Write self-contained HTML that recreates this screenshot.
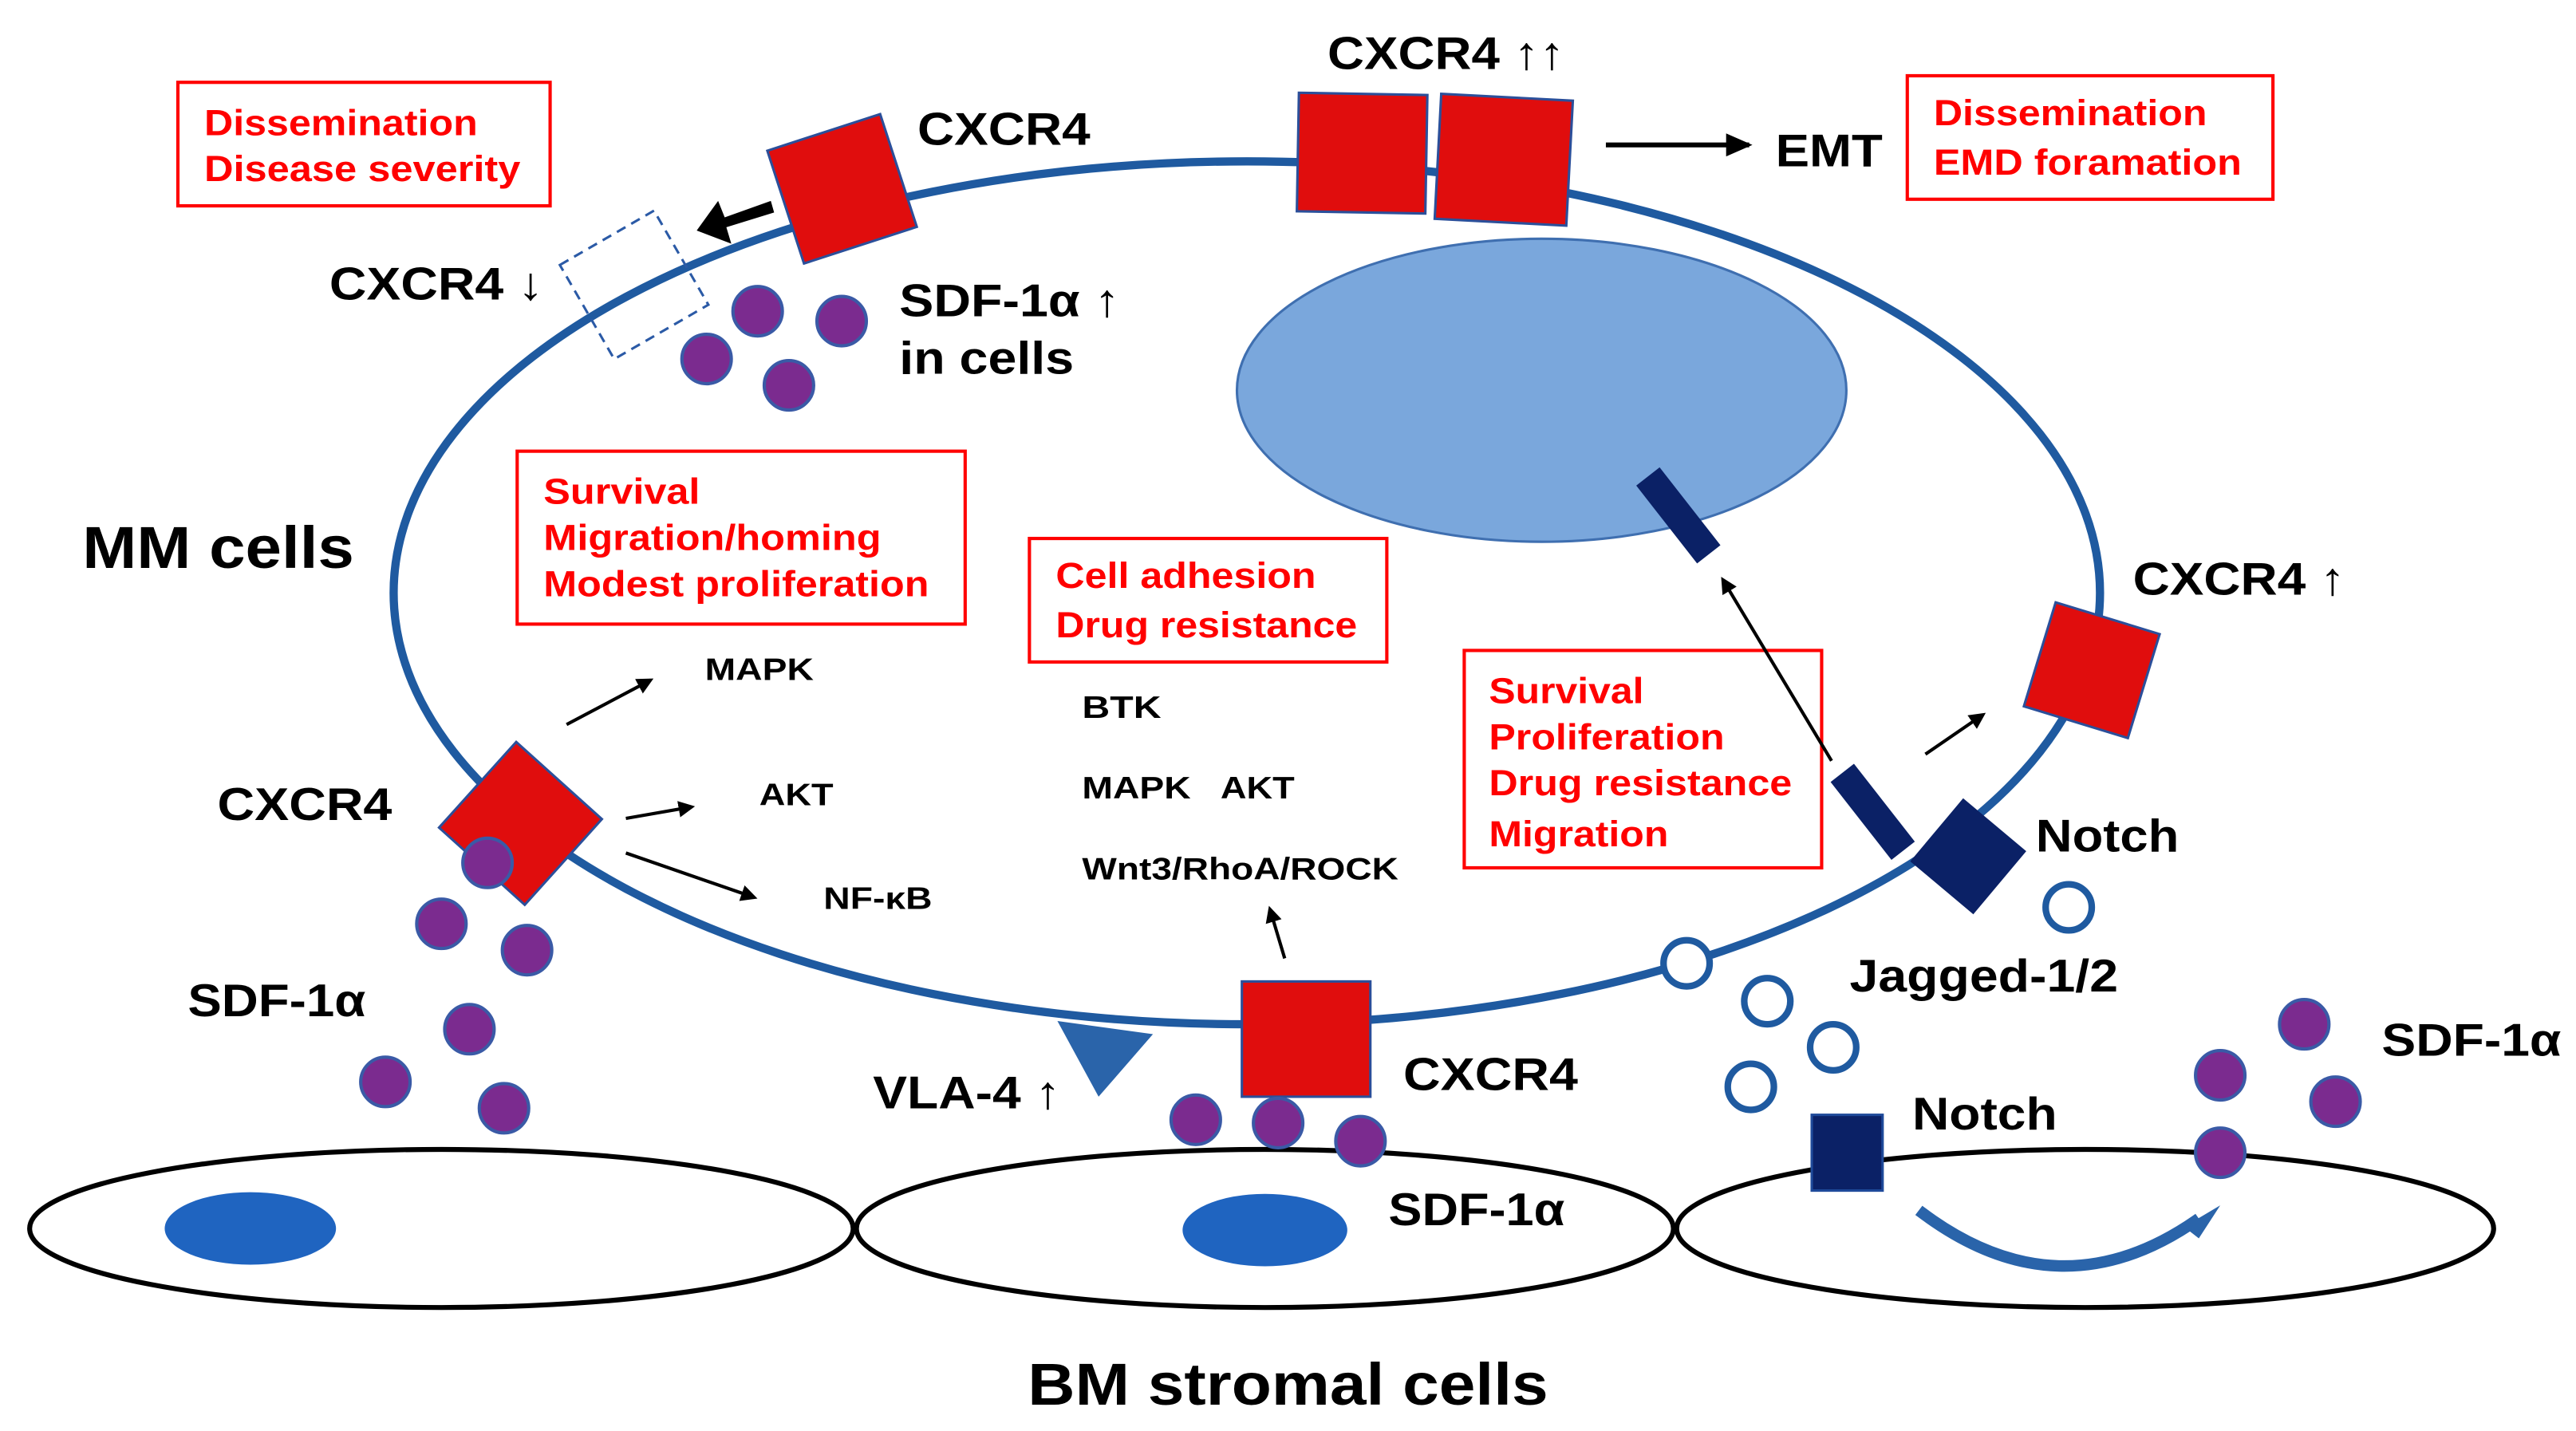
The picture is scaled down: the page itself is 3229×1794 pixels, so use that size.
<!DOCTYPE html>
<html><head><meta charset="utf-8"><style>
html,body{margin:0;padding:0;background:#fff;}
svg{display:block;}
text{font-family:"Liberation Sans",Arial,sans-serif;font-weight:bold;}
.r{fill:#f00;font-size:22px;}
.k{fill:#000;font-size:28px;}
.s{fill:#000;font-size:19px;}
.box{fill:#fff;stroke:#f00;stroke-width:2;}
.sq{fill:#e00d0d;stroke:#2b4f9a;stroke-width:1.5;}
.p{fill:#7b2b8f;stroke:#3a5aa6;stroke-width:2;}
.o{fill:#fff;stroke:#1f5aa0;stroke-width:4;}
</style></head><body>
<svg width="3229" height="1794" viewBox="0 0 1564 869" preserveAspectRatio="none">
<defs><marker id="a" markerWidth="10" markerHeight="10" refX="8" refY="5" orient="auto" markerUnits="userSpaceOnUse"><path d="M0,0 L10,5 L0,10 z" fill="#000"/></marker>
<marker id="ab" markerWidth="16" markerHeight="14" refX="14" refY="7" orient="auto" markerUnits="userSpaceOnUse"><path d="M0,0 L16,7 L0,14 z" fill="#000"/></marker></defs>
<ellipse cx="268" cy="746" rx="250" ry="48" fill="none" stroke="#000" stroke-width="3"/>
<ellipse cx="768" cy="746" rx="248" ry="48" fill="none" stroke="#000" stroke-width="3"/>
<ellipse cx="1266" cy="746" rx="248" ry="48" fill="none" stroke="#000" stroke-width="3"/>
<ellipse cx="152" cy="746" rx="52" ry="22" fill="#1f64c0"/>
<ellipse cx="768" cy="747" rx="50" ry="22" fill="#1f64c0"/>
<path d="M1165,735 Q1250,800 1335,740" fill="none" stroke="#2a64aa" stroke-width="7"/>
<path d="M1326,745 L1348,732 L1335,752 z" fill="#2a64aa"/>
<ellipse cx="757" cy="360" rx="518" ry="262" fill="none" stroke="#1f5aa0" stroke-width="5"/>
<ellipse cx="936" cy="237" rx="185" ry="92" fill="#7aa7dc" stroke="#3f6fb0" stroke-width="1.5"/>
<rect class="box" x="108" y="50" width="226" height="75"/>
<text class="r" x="124" y="82" textLength="166" lengthAdjust="spacingAndGlyphs">Dissemination</text><text class="r" x="124" y="110" textLength="192" lengthAdjust="spacingAndGlyphs">Disease severity</text>
<rect class="box" x="1158" y="46" width="222" height="75"/>
<text class="r" x="1174" y="76" textLength="166" lengthAdjust="spacingAndGlyphs">Dissemination</text><text class="r" x="1174" y="106" textLength="187" lengthAdjust="spacingAndGlyphs">EMD foramation</text>
<rect class="box" x="314" y="274" width="272" height="105"/>
<text class="r" x="330" y="306" textLength="95" lengthAdjust="spacingAndGlyphs">Survival</text><text class="r" x="330" y="334" textLength="205" lengthAdjust="spacingAndGlyphs">Migration/homing</text><text class="r" x="330" y="362" textLength="234" lengthAdjust="spacingAndGlyphs">Modest proliferation</text>
<rect class="box" x="625" y="327" width="217" height="75"/>
<text class="r" x="641" y="357" textLength="158" lengthAdjust="spacingAndGlyphs">Cell adhesion</text><text class="r" x="641" y="387" textLength="183" lengthAdjust="spacingAndGlyphs">Drug resistance</text>
<rect class="box" x="889" y="395" width="217" height="132"/>
<text class="r" x="904" y="427" textLength="94" lengthAdjust="spacingAndGlyphs">Survival</text><text class="r" x="904" y="455" textLength="143" lengthAdjust="spacingAndGlyphs">Proliferation</text><text class="r" x="904" y="483" textLength="184" lengthAdjust="spacingAndGlyphs">Drug resistance</text><text class="r" x="904" y="514" textLength="109" lengthAdjust="spacingAndGlyphs">Migration</text>
<rect class="sq" x="-35" y="-35" width="72" height="72" transform="translate(510,114) rotate(-18)"/>
<rect x="-33" y="-33" width="66" height="66" fill="none" stroke="#2b5aa6" stroke-width="1.5" stroke-dasharray="6,4" transform="translate(385,173) rotate(-30)"/>
<path d="M468,122 L440,132 L436,122 L423,140 L444,148 L441,138 L470,129 z" fill="#000"/>
<rect class="sq" x="788" y="57" width="78" height="72" transform="rotate(1 827 93)"/>
<rect class="sq" x="873" y="59" width="80" height="76" transform="rotate(3 913 97)"/>
<line x1="975" y1="88" x2="1062" y2="88" stroke="#000" stroke-width="3" marker-end="url(#ab)"/>
<rect class="sq" x="-33" y="-33" width="66" height="66" transform="translate(1270,407) rotate(17)"/>
<rect class="sq" x="-35" y="-35" width="70" height="70" transform="translate(316,500) rotate(42)"/>
<rect class="sq" x="754" y="596" width="78" height="70"/>
<path d="M642,620 L700,628 L667,666 z" fill="#2a64aa"/>
<rect x="-9" y="-30" width="18" height="60" fill="#0b2166" transform="translate(1019,313) rotate(-38)"/>
<rect x="-9" y="-30" width="18" height="60" fill="#0b2166" transform="translate(1137,493) rotate(-38)"/>
<rect x="-25" y="-25" width="50" height="50" fill="#0b2166" transform="translate(1195,520) rotate(40)"/>
<rect x="1100" y="677" width="43" height="46" fill="#0b2166" stroke="#1f4a9a" stroke-width="1.5"/>
<circle class="o" cx="1024" cy="585" r="14"/><circle class="o" cx="1073" cy="608" r="14"/>
<circle class="o" cx="1113" cy="636" r="14"/><circle class="o" cx="1063" cy="660" r="14"/>
<circle class="o" cx="1256" cy="551" r="14"/>
<circle class="p" cx="460" cy="189" r="15"/><circle class="p" cx="511" cy="195" r="15"/>
<circle class="p" cx="429" cy="218" r="15"/><circle class="p" cx="479" cy="234" r="15"/>
<circle class="p" cx="296" cy="524" r="15"/><circle class="p" cx="268" cy="561" r="15"/>
<circle class="p" cx="320" cy="577" r="15"/><circle class="p" cx="285" cy="625" r="15"/>
<circle class="p" cx="234" cy="657" r="15"/><circle class="p" cx="306" cy="673" r="15"/>
<circle class="p" cx="726" cy="680" r="15"/><circle class="p" cx="776" cy="682" r="15"/>
<circle class="p" cx="826" cy="693" r="15"/>
<circle class="p" cx="1399" cy="622" r="15"/><circle class="p" cx="1348" cy="653" r="15"/>
<circle class="p" cx="1418" cy="669" r="15"/><circle class="p" cx="1348" cy="700" r="15"/>
<line x1="344" y1="440" x2="395" y2="413" stroke="#000" stroke-width="2" marker-end="url(#a)"/>
<line x1="380" y1="497" x2="420" y2="490" stroke="#000" stroke-width="2" marker-end="url(#a)"/>
<line x1="380" y1="518" x2="458" y2="545" stroke="#000" stroke-width="2" marker-end="url(#a)"/>
<line x1="780" y1="582" x2="771" y2="552" stroke="#000" stroke-width="2" marker-end="url(#a)"/>
<line x1="1112" y1="462" x2="1046" y2="352" stroke="#000" stroke-width="2" marker-end="url(#a)"/>
<line x1="1169" y1="458" x2="1204" y2="434" stroke="#000" stroke-width="2" marker-end="url(#a)"/>
<text class="k" x="557" y="88" textLength="105" lengthAdjust="spacingAndGlyphs">CXCR4</text>
<text class="k" x="806" y="42" textLength="144" lengthAdjust="spacingAndGlyphs">CXCR4 ↑↑</text>
<text class="k" x="1078" y="101" textLength="65" lengthAdjust="spacingAndGlyphs">EMT</text>
<text class="k" x="200" y="182" textLength="130" lengthAdjust="spacingAndGlyphs">CXCR4 ↓</text>
<text class="k" x="546" y="192" textLength="134" lengthAdjust="spacingAndGlyphs">SDF-1α ↑</text>
<text class="k" x="546" y="227" textLength="106" lengthAdjust="spacingAndGlyphs">in cells</text>
<text class="k" x="50" y="345" style="font-size:36px" textLength="165" lengthAdjust="spacingAndGlyphs">MM cells</text>
<text class="k" x="1295" y="361" textLength="129" lengthAdjust="spacingAndGlyphs">CXCR4 ↑</text>
<text class="k" x="132" y="498" textLength="106" lengthAdjust="spacingAndGlyphs">CXCR4</text>
<text class="k" x="1236" y="517" textLength="87" lengthAdjust="spacingAndGlyphs">Notch</text>
<text class="k" x="1123" y="602" textLength="163" lengthAdjust="spacingAndGlyphs">Jagged-1/2</text>
<text class="k" x="114" y="617" textLength="108" lengthAdjust="spacingAndGlyphs">SDF-1α</text>
<text class="k" x="852" y="662" textLength="106" lengthAdjust="spacingAndGlyphs">CXCR4</text>
<text class="k" x="530" y="673" textLength="114" lengthAdjust="spacingAndGlyphs">VLA-4 ↑</text>
<text class="k" x="1161" y="686" textLength="88" lengthAdjust="spacingAndGlyphs">Notch</text>
<text class="k" x="1446" y="641" textLength="109" lengthAdjust="spacingAndGlyphs">SDF-1α</text>
<text class="k" x="843" y="744" textLength="107" lengthAdjust="spacingAndGlyphs">SDF-1α</text>
<text class="k" x="624" y="853" style="font-size:36px" textLength="316" lengthAdjust="spacingAndGlyphs">BM stromal cells</text>
<text class="s" x="428" y="413" textLength="66" lengthAdjust="spacingAndGlyphs">MAPK</text>
<text class="s" x="461" y="489" textLength="45" lengthAdjust="spacingAndGlyphs">AKT</text>
<text class="s" x="500" y="552" textLength="66" lengthAdjust="spacingAndGlyphs">NF-κB</text>
<text class="s" x="657" y="436" textLength="48" lengthAdjust="spacingAndGlyphs">BTK</text>
<text class="s" x="657" y="485" textLength="66" lengthAdjust="spacingAndGlyphs">MAPK</text><text class="s" x="741" y="485" textLength="45" lengthAdjust="spacingAndGlyphs">AKT</text>
<text class="s" x="657" y="534" textLength="192" lengthAdjust="spacingAndGlyphs">Wnt3/RhoA/ROCK</text>
</svg>
</body></html>
